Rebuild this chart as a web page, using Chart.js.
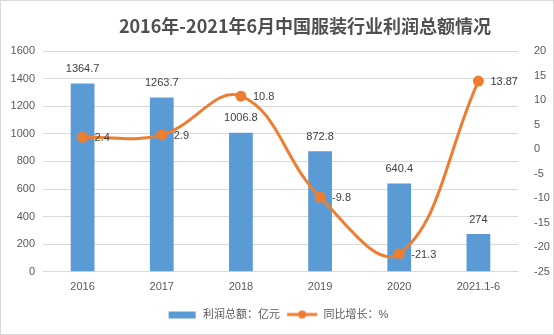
<!DOCTYPE html>
<html><head><meta charset="utf-8">
<script src="https://cdn.jsdelivr.net/npm/chart.js@4"></script>
<style>html,body{margin:0;padding:0;background:#fff}</style>
</head><body><canvas id="c" width="554" height="335"></canvas>
<script>
const categories = ['2016', '2017', '2018', '2019', '2020', '2021.1-6'];
const profit = [1364.7, 1263.7, 1006.8, 872.8, 640.4, 274];
const growth = [2.4, 2.9, 10.8, -9.8, -21.3, 13.87];
const profitLabels = ['1364.7', '1263.7', '1006.8', '872.8', '640.4', '274'];
const growthLabels = ['2.4', '2.9', '10.8', '-9.8', '-21.3', '13.87'];
const leftTicks = [0, 200, 400, 600, 800, 1000, 1200, 1400, 1600];
const rightTicks = [-25, -20, -15, -10, -5, 0, 5, 10, 15, 20];
const titleText = '2016年-2021年6月中国服装行业利润总额情况';
const seriesNames = ['利润总额：亿元', '同比增长：%'];

const BAR = '#5b9bd5', LINE = '#ed7d31', TXT = '#595959';
const FONT = '"Liberation Sans", "Noto Sans CJK SC", sans-serif';

function swatch(kind) {
  const c = document.createElement('canvas');
  c.width = 32; c.height = 10;
  const g = c.getContext('2d');
  if (kind === 'bar') { g.fillStyle = BAR; g.fillRect(3, 2, 27, 7); }
  else {
    g.strokeStyle = LINE; g.lineWidth = 3;
    g.beginPath(); g.moveTo(1, 5); g.lineTo(31, 5); g.stroke();
    g.fillStyle = LINE; g.beginPath(); g.arc(16, 5, 4, 0, Math.PI * 2); g.fill();
  }
  return c;
}
const swatches = [swatch('bar'), swatch('line')];

const framePlugin = {
  id: 'frame',
  beforeDraw(chart) {
    const ctx = chart.ctx;
    ctx.save();
    ctx.fillStyle = '#fff'; ctx.fillRect(0, 0, chart.width, chart.height);
    ctx.strokeStyle = '#d9d9d9'; ctx.lineWidth = 1;
    ctx.strokeRect(0.5, 0.5, chart.width - 1, chart.height - 1);
    ctx.restore();
  },
  afterDraw(chart) {
    const ctx = chart.ctx;
    ctx.save();
    ctx.font = 'bold 18px "Noto Sans CJK SC", sans-serif';
    ctx.fillStyle = '#505050';
    ctx.textAlign = 'center'; ctx.textBaseline = 'middle';
    ctx.fillText(titleText, 305, 26);
    ctx.restore();
  }
};

const labelPlugin = {
  id: 'valueLabels',
  afterDatasetsDraw(chart) {
    const ctx = chart.ctx;
    ctx.save();
    ctx.font = '11px ' + FONT;
    ctx.fillStyle = '#404040';
    chart.getDatasetMeta(0).data.forEach((el, i) => {
      ctx.textAlign = 'center'; ctx.textBaseline = 'bottom';
      ctx.fillText(profitLabels[i], el.x, el.y - 9);
    });
    chart.getDatasetMeta(1).data.forEach((el, i) => {
      ctx.textAlign = 'left'; ctx.textBaseline = 'middle';
      ctx.fillText(growthLabels[i], el.x + 12, el.y + 1);
    });
    ctx.restore();
  }
};

new Chart(document.getElementById('c'), {
  data: {
    labels: categories,
    datasets: [
      { type: 'bar', label: seriesNames[0], data: profit, backgroundColor: BAR, yAxisID: 'y',
        categoryPercentage: 1, barPercentage: 0.3, order: 2 },
      { type: 'line', label: seriesNames[1], data: growth, borderColor: LINE, backgroundColor: LINE,
        borderWidth: 3, tension: 0.4, pointRadius: 4, pointBackgroundColor: LINE, pointBorderColor: LINE,
        yAxisID: 'y1', order: 1, clip: false }
    ]
  },
  options: {
    responsive: false,
    animation: false,
    layout: { padding: { top: 51, left: 0, right: 0, bottom: 5 } },
    plugins: {
      tooltip: { enabled: false },
      title: { display: false },
      legend: {
        position: 'bottom',
        labels: {
          usePointStyle: true, pointStyleWidth: 32, boxHeight: 10,
          color: TXT, font: { family: FONT, size: 11 }, padding: 6,
          generateLabels: (chart) => seriesNames.map((n, i) => ({
            text: n, pointStyle: swatches[i], datasetIndex: i, fontColor: TXT,
            lineWidth: 0, hidden: false
          }))
        }
      }
    },
    scales: {
      x: {
        grid: { display: false, drawTicks: false },
        border: { display: true, color: '#d9d9d9' },
        ticks: { color: TXT, font: { family: FONT, size: 11 }, padding: 9, maxRotation: 0 }
      },
      y: {
        position: 'left', min: 0, max: 1600,
        afterBuildTicks: (s) => { s.ticks = leftTicks.map(v => ({ value: v })); },
        afterFit: (s) => { s.width = 43; },
        grid: { color: '#d9d9d9', drawTicks: false },
        border: { display: false },
        ticks: { color: TXT, font: { family: FONT, size: 11 }, padding: 8, callback: (v) => String(v) }
      },
      y1: {
        position: 'right', min: -25, max: 20,
        afterBuildTicks: (s) => { s.ticks = rightTicks.map(v => ({ value: v })); },
        afterFit: (s) => { s.width = 36; },
        grid: { display: false },
        border: { display: false },
        ticks: { color: TXT, font: { family: FONT, size: 11 }, padding: 8, callback: (v) => String(v) }
      }
    }
  },
  plugins: [framePlugin, labelPlugin]
});
</script></body></html>
